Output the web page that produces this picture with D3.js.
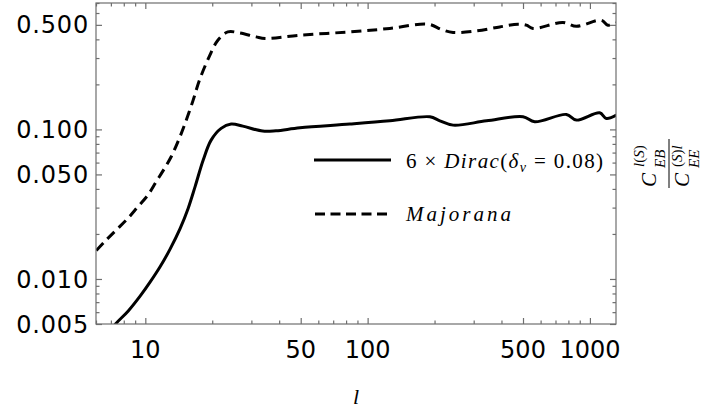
<!DOCTYPE html>
<html>
<head>
<meta charset="utf-8">
<script src="https://cdn.jsdelivr.net/npm/d3@7"></script>
<style>
  html, body { margin: 0; padding: 0; background: #fff; }
  svg { display: block; }
</style>
</head>
<body>
<svg id="chart" width="704" height="412"></svg>
<script>
// ---------------- data ----------------
const diracL = [6.96, 7.40, 8.38, 9.49, 10.52, 11.67, 12.94, 14.35, 15.58, 16.76, 18.2, 19.77, 21.93, 24.32, 27.45, 33.74, 38.7, 49.6, 83.2, 125.9, 190.5, 211.3, 242.4, 342.4, 500, 564.5, 783.4, 868.9, 1106, 1185, 1314];
const diracV = [0.0045, 0.00506, 0.00611, 0.0077, 0.00955, 0.0121, 0.0159, 0.0218, 0.0296, 0.0416, 0.0622, 0.0848, 0.1016, 0.1085, 0.1052, 0.0974, 0.0979, 0.1025, 0.1085, 0.1141, 0.1214, 0.1141, 0.1068, 0.1141, 0.1214, 0.1124, 0.1259, 0.1154, 0.1291, 0.1184, 0.1246];

const majoranaL = [6.02, 6.67, 7.40, 8.35, 9.26, 10.27, 11.19, 12.2, 13.07, 14.01, 15.0, 16.36, 17.52, 19.43, 21.2, 23.5, 26.5, 31.5, 34.6, 49.6, 83.2, 125.8, 187.2, 215, 242.4, 308.9, 393, 474.8, 518, 554.6, 756.2, 868.9, 1125, 1205, 1314];
const majoranaV = [0.0155, 0.01822, 0.02125, 0.02543, 0.03041, 0.0364, 0.04467, 0.0549, 0.0656, 0.0826, 0.1068, 0.1545, 0.2135, 0.3089, 0.3948, 0.4487, 0.4419, 0.4156, 0.4054, 0.4265, 0.4487, 0.473, 0.5053, 0.4655, 0.4446, 0.4554, 0.4843, 0.5053, 0.4975, 0.473, 0.5186, 0.4888, 0.537, 0.4975, 0.5155];

const xMajorTicks = [10, 50, 100, 500, 1000];
const xTickLabels = ["10", "50", "100", "500", "1000"];
const xMinorTicks = [6, 7, 8, 9, 20, 30, 40, 60, 70, 80, 90, 200, 300, 400, 600, 700, 800, 900];
const yMajorTicks = [0.005, 0.01, 0.05, 0.1, 0.5];
const yTickLabels = ["0.005", "0.010", "0.050", "0.100", "0.500"];
const yMinorTicks = [0.006, 0.007, 0.008, 0.009, 0.02, 0.03, 0.04, 0.06, 0.07, 0.08, 0.09, 0.2, 0.3, 0.4, 0.6, 0.7];

// ---------------- layout ----------------
const L = 96, R = 616, T = 3, B = 324;
const svg = d3.select("#chart");
const x = d3.scaleLog().domain([6, 1310]).range([L, R]);
const y = d3.scaleLog().domain([0.005, 0.7]).range([B, T]);

const frameColor = "#6e6e6e";
const majorLen = 6, minorLen = 3.5;

// clip
svg.append("defs").append("clipPath").attr("id", "clip")
  .append("rect").attr("x", L).attr("y", T).attr("width", R - L).attr("height", B - T);

// curves
const line = d3.line().x(d => x(d[0])).y(d => y(d[1])).curve(d3.curveCatmullRom.alpha(0.5));
const dirac = diracL.map((l, i) => [l, diracV[i]]);
const majorana = majoranaL.map((l, i) => [l, majoranaV[i]]);

const gCurves = svg.append("g").attr("clip-path", "url(#clip)");
gCurves.append("path").attr("d", line(majorana))
  .attr("fill", "none").attr("stroke", "#000").attr("stroke-width", 3)
  .attr("stroke-dasharray", "10,6");
gCurves.append("path").attr("d", line(dirac))
  .attr("fill", "none").attr("stroke", "#000").attr("stroke-width", 3);

// frame
svg.append("rect").attr("x", L).attr("y", T).attr("width", R - L).attr("height", B - T)
  .attr("fill", "none").attr("stroke", frameColor).attr("stroke-width", 1.2);

// ticks via d3 axes (inward)
function drawXAxis(ticks, len, yPos, orientBottom) {
  const ax = (orientBottom ? d3.axisBottom(x) : d3.axisTop(x))
    .tickValues(ticks).tickSize(-len).tickFormat("");
  const g = svg.append("g").attr("transform", `translate(0,${yPos})`).call(ax);
  g.select(".domain").remove();
  g.selectAll("line").attr("stroke", frameColor).attr("stroke-width", 1.2);
}
function drawYAxis(ticks, len, xPos, orientLeft) {
  const ax = (orientLeft ? d3.axisLeft(y) : d3.axisRight(y))
    .tickValues(ticks).tickSize(-len).tickFormat("");
  const g = svg.append("g").attr("transform", `translate(${xPos},0)`).call(ax);
  g.select(".domain").remove();
  g.selectAll("line").attr("stroke", frameColor).attr("stroke-width", 1.2);
}
drawXAxis(xMajorTicks, majorLen, B, true);
drawXAxis(xMinorTicks, minorLen, B, true);
drawXAxis(xMajorTicks, majorLen, T, false);
drawXAxis(xMinorTicks, minorLen, T, false);
drawYAxis(yMajorTicks, majorLen, L, true);
drawYAxis(yMinorTicks, minorLen, L, true);
drawYAxis(yMajorTicks, majorLen, R, false);
drawYAxis(yMinorTicks, minorLen, R, false);

// tick labels
const tickFont = "DejaVu Sans, sans-serif";
svg.append("g").selectAll("text").data(xMajorTicks).join("text")
  .attr("x", d => x(d)).attr("y", 358)
  .attr("text-anchor", "middle")
  .attr("font-family", tickFont).attr("font-size", 24)
  .text((d, i) => xTickLabels[i]);
svg.append("g").selectAll("text").data(yMajorTicks).join("text")
  .attr("x", 89).attr("y", d => y(d))
  .attr("dy", "0.36em")
  .attr("text-anchor", "end")
  .attr("font-family", tickFont).attr("font-size", 24)
  .attr("letter-spacing", 0.8)
  .text((d, i) => yTickLabels[i]);

// x-axis title
const serif = "Liberation Serif, DejaVu Serif, serif";
svg.append("text").attr("x", (L + R) / 2).attr("y", 404)
  .attr("text-anchor", "middle").attr("font-family", serif)
  .attr("font-style", "italic").attr("font-size", 22).text("l");

// legend
svg.append("line").attr("x1", 314).attr("x2", 391).attr("y1", 160).attr("y2", 160)
  .attr("stroke", "#000").attr("stroke-width", 3);
svg.append("line").attr("x1", 315).attr("x2", 387).attr("y1", 214).attr("y2", 214)
  .attr("stroke", "#000").attr("stroke-width", 3).attr("stroke-dasharray", "10,5.5");

const t1 = svg.append("text").attr("x", 406).attr("y", 168)
  .attr("font-family", serif).attr("font-size", 21)
  .attr("textLength", 197).attr("lengthAdjust", "spacing");
t1.append("tspan").text("6 × ");
t1.append("tspan").attr("font-style", "italic").text("Dirac");
t1.append("tspan").text("(");
t1.append("tspan").attr("font-style", "italic").text("δ");
t1.append("tspan").attr("font-style", "italic").attr("font-size", 14).attr("dy", 4).text("ν");
t1.append("tspan").attr("dy", -4).text(" = 0.08)");

svg.append("text").attr("x", 406).attr("y", 221)
  .attr("font-family", serif).attr("font-size", 21).attr("font-style", "italic")
  .attr("textLength", 105).attr("lengthAdjust", "spacing")
  .text("Majorana");

// y-axis label (rotated fraction)
const gy = svg.append("g").attr("transform", "translate(668,163) rotate(-90)")
  .attr("font-family", serif);
function frac(yBase, supY, subY, sup, sub) {
  gy.append("text").attr("x", -24).attr("y", yBase).attr("font-size", 21)
    .attr("font-style", "italic").text("C");
  const s = gy.append("text").attr("x", -4).attr("y", supY).attr("font-size", 15);
  sup.forEach(p => s.append("tspan").attr("font-style", p[1] ? "italic" : "normal").text(p[0]));
  gy.append("text").attr("x", -5).attr("y", subY).attr("font-size", 15)
    .attr("font-style", "italic").text(sub);
}
frac(-12, -24, -3, [["l", true], ["(", false], ["S", true], [")", false]], "EB");
gy.append("line").attr("x1", -25).attr("x2", 24).attr("y1", 1).attr("y2", 1)
  .attr("stroke", "#000").attr("stroke-width", 1);
frac(21, 14, 31, [["(", false], ["S", true], [")", false], ["l", true]], "EE");
</script>
</body>
</html>
